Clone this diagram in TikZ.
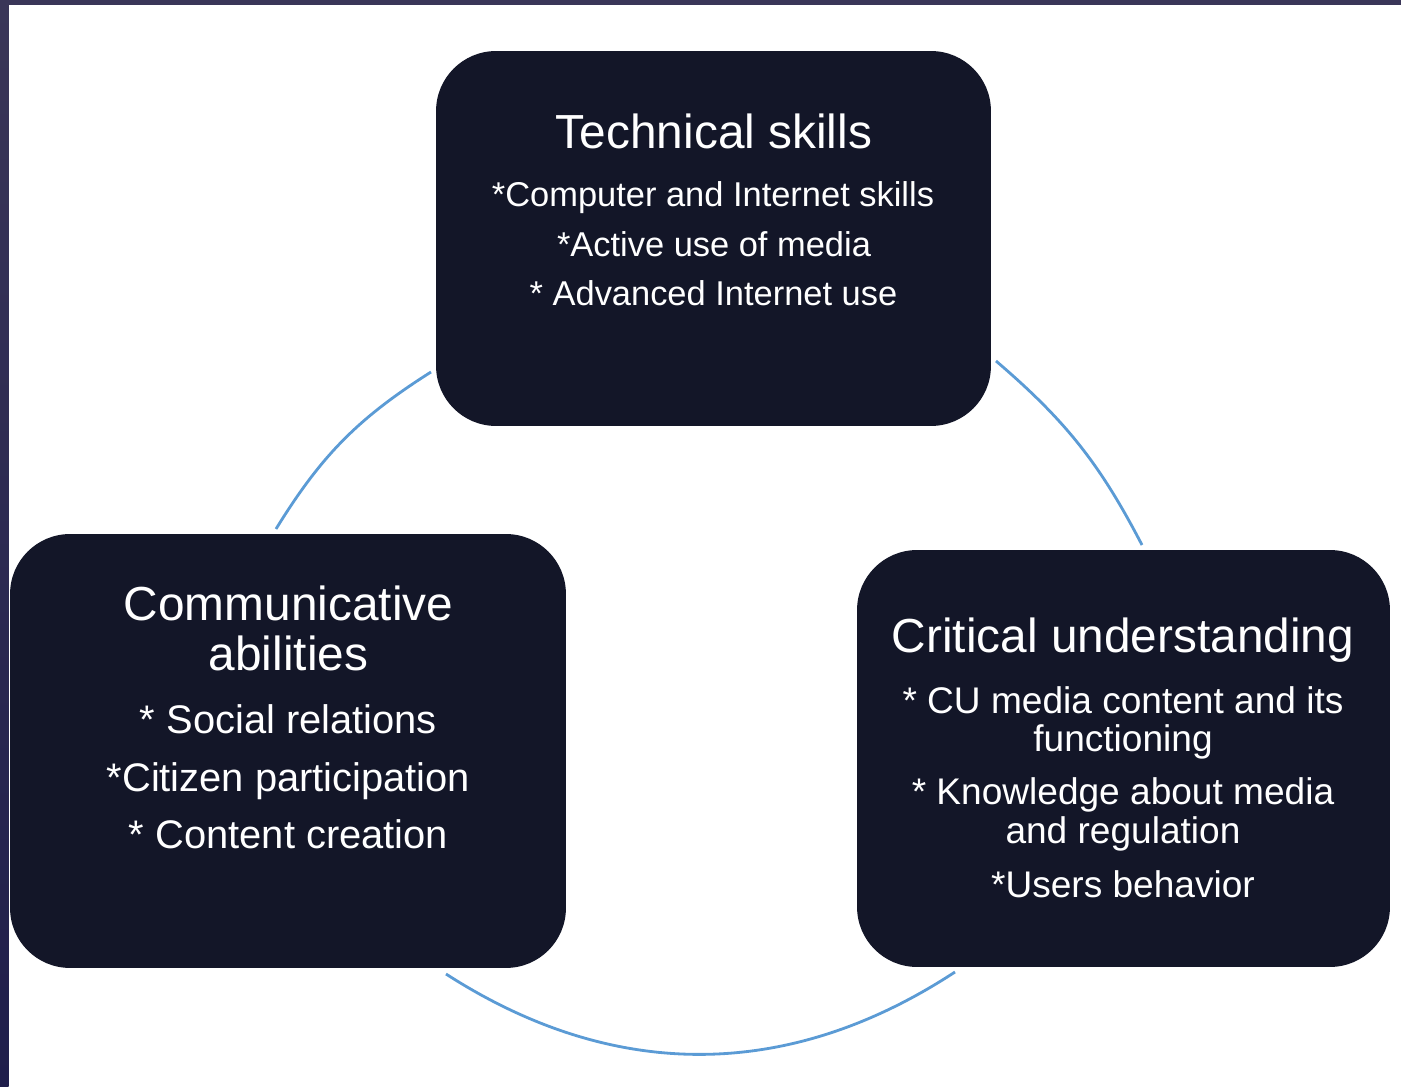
\documentclass[tikz,border=0pt]{standalone}
\usepackage{fontspec}
\setmainfont{Liberation Sans}
\definecolor{boxfill}{HTML}{131628}
\definecolor{ringblue}{HTML}{5B9BD5}
\definecolor{framedark}{HTML}{3A3658}
\definecolor{framedeep}{HTML}{1F1E4B}
\begin{document}
\begin{tikzpicture}[
  x=0.02cm, y=-0.02cm,
  panel/.style={rectangle, fill=boxfill, rounded corners=1.2cm, inner sep=0pt, draw=none},
  heading/.style={text=white, anchor=base, inner sep=0pt, font=\fontsize{27.2}{27.2}\selectfont},
  itemtop/.style={text=white, anchor=base, inner sep=0pt, font=\fontsize{19.6}{19.6}\selectfont},
  itemleft/.style={text=white, anchor=base, inner sep=0pt, font=\fontsize{22.7}{22.7}\selectfont},
  itemright/.style={text=white, anchor=base, inner sep=0pt, font=\fontsize{21.1}{21.1}\selectfont},
  ring/.style={draw=ringblue, line width=1.6pt}
]
\useasboundingbox (0,0) rectangle (1401,1087);
% page background and frame strips
\fill[white] (0,0) rectangle (1401,1087);
\shade[top color=framedark, bottom color=framedeep] (0,0) rectangle (8.7,1087);
\fill[framedark] (0,0) rectangle (1401,5);

% the three panels
\node[panel, minimum width=11.1cm, minimum height=7.5cm] (tech) at (713.5,238.5) {};
\node[panel, minimum width=11.12cm, minimum height=8.68cm] (comm) at (288,751) {};
\node[panel, minimum width=10.66cm, minimum height=8.34cm] (crit) at (1123.5,758.5) {};

% Technical skills
\node[heading] (techT) at (714,149) {Technical skills};
\node[itemtop] (tech1) at (713,207) {*Computer and Internet skills};
\node[itemtop] (tech2) at (714,257) {*Active use of media};
\node[itemtop] (tech3) at (713.5,306) {* Advanced Internet use};

% Communicative abilities
\node[heading] (commT1) at (288.5,621) {Communicative};
\node[heading] (commT2) at (288.5,671) {abilities};
\node[itemleft] (comm1) at (288.5,734) {* Social relations};
\node[itemleft] (comm2) at (288.5,792) {*Citizen participation};
\node[itemleft] (comm3) at (288.5,849) {* Content creation};

% Critical understanding
\node[heading] (critT) at (1123,653) {Critical understanding};
\node[itemright] (crit1) at (1123,714) {* CU media content and its};
\node[itemright] (crit1b) at (1123,752) {functioning};
\node[itemright] (crit2) at (1123,805) {* Knowledge about media};
\node[itemright] (crit2b) at (1123,844) {and regulation};
\node[itemright] (crit3) at (1123,898) {*Users behavior};

% cycle arcs between the panels
\coordinate (r1a) at (431,372);
\coordinate (r1b) at (276,529);
\coordinate (r2a) at (996,361);
\coordinate (r2b) at (1142,545);
\coordinate (r3a) at (446,974);
\coordinate (r3b) at (955,972);
\draw[ring] (r1a) to[bend right=13] (r1b);
\draw[ring] (r2a) to[bend left=11] (r2b);
\draw[ring] (r3a) to[bend right=33] (r3b);
\end{tikzpicture}
\end{document}
